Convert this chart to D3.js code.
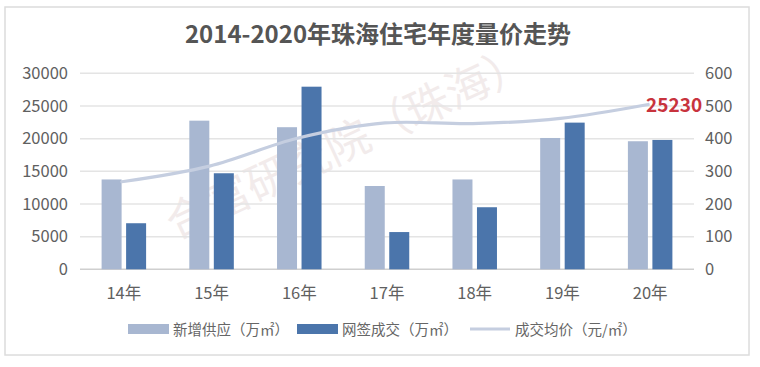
<!DOCTYPE html>
<html><head><meta charset="utf-8">
<script src="https://cdn.jsdelivr.net/npm/d3@7"></script>
<style>body{margin:0;background:#fff;}svg{display:block;}</style>
</head><body>
<svg id="c" width="760" height="367"></svg>
<script>
const categories = ["14年","15年","16年","17年","18年","19年","20年"];
const supply = [275, 455, 435, 255, 275, 402, 392];      // 新增供应（万㎡）
const deals  = [141, 294, 559, 114, 190, 449, 396];      // 网签成交（万㎡）
const price  = [13400, 15800, 20050, 22400, 22300, 23100, 25230]; // 成交均价（元/㎡）
const leftTicks = [0,5000,10000,15000,20000,25000,30000];
const rightTicks = [0,100,200,300,400,500,600];
const seriesNames = ["新增供应（万㎡）","网签成交（万㎡）","成交均价（元/㎡）"];
const colors = ["#a8b7d1","#4b75ab","#c5cee0"];

const svg = d3.select("#c");
const font = "'Noto Sans CJK SC','Noto Sans',sans-serif";
svg.append("rect").attr("x",5).attr("y",7).attr("width",744).attr("height",348)
  .attr("fill","#fff").attr("stroke","#dcdcdc").attr("stroke-width",1.5);

const m = {l:80, r:694, t:73.3, b:269.3};
const x = d3.scaleBand().domain(categories).range([m.l,m.r]);
const yL = d3.scaleLinear().domain([0,30000]).range([m.b,m.t]);
const yR = d3.scaleLinear().domain([0,600]).range([m.b,m.t]);

// watermark
const wm = svg.append("g").attr("opacity",0.16);
wm.append("text").attr("transform","translate(175,240) rotate(-25)")
  .attr("font-family",font).attr("font-size",44).attr("fill","#b08a8a")
  .text("合富研究院（珠海）");

// gridlines
svg.append("g").selectAll("line").data(leftTicks).join("line")
  .attr("x1",m.l).attr("x2",m.r).attr("y1",d=>yL(d)).attr("y2",d=>yL(d))
  .attr("stroke",d=>d===0?"#cfcfcf":"#e4e4e4").attr("stroke-width",1.5);

// axes
const axL = d3.axisLeft(yL).tickValues(leftTicks).tickFormat(d3.format("d")).tickSize(0).tickPadding(12);
const gL = svg.append("g").attr("transform",`translate(${m.l},0)`).call(axL);
const axR = d3.axisRight(yR).tickValues(rightTicks).tickSize(0).tickPadding(11);
const gR = svg.append("g").attr("transform",`translate(${m.r},0)`).call(axR);
const axB = d3.axisBottom(x).tickSize(0).tickPadding(18);
const gB = svg.append("g").attr("transform",`translate(0,${m.b})`).call(axB);
[gL,gR,gB].forEach(g=>{
  g.select(".domain").remove();
  g.selectAll("text").attr("font-family",font).attr("font-size",16.5).attr("fill","#606060");
});

// bars
const bw = 20, gap = 4.5;
svg.append("g").selectAll("rect").data(categories).join("rect")
  .attr("x",d=>x(d)+x.bandwidth()/2-gap/2-bw).attr("width",bw)
  .attr("y",(d,i)=>yR(supply[i])).attr("height",(d,i)=>yR(0)-yR(supply[i]))
  .attr("fill",colors[0]);
svg.append("g").selectAll("rect").data(categories).join("rect")
  .attr("x",d=>x(d)+x.bandwidth()/2+gap/2).attr("width",bw)
  .attr("y",(d,i)=>yR(deals[i])).attr("height",(d,i)=>yR(0)-yR(deals[i]))
  .attr("fill",colors[1]);

// line
const line = d3.line().x((d,i)=>x(categories[i])+x.bandwidth()/2-2).y(d=>yL(d)).curve(d3.curveCatmullRom.alpha(0.5));
svg.append("path").datum(price).attr("d",line).attr("fill","none")
  .attr("stroke",colors[2]).attr("stroke-width",3.2).attr("stroke-linecap","round");

// label
svg.append("text").attr("x",x(categories[6])+x.bandwidth()/2+52).attr("y",yL(price[6])+8)
  .attr("text-anchor","end").attr("font-family",font).attr("font-weight","bold")
  .attr("font-size",19).attr("fill","#c8333d").text(price[6]);

// title
svg.append("text").attr("x",378).attr("y",43).attr("text-anchor","middle")
  .attr("font-family",font).attr("font-weight","bold").attr("font-size",24)
  .attr("fill","#555").text("2014-2020年珠海住宅年度量价走势");

// legend
const lg = svg.append("g").attr("font-family",font).attr("font-size",14.5).attr("fill","#666");
const items = [{x:128, type:"rect"},{x:297, type:"rect"},{x:470, type:"line"}];
items.forEach((it,i)=>{
  if(it.type==="rect"){
    lg.append("rect").attr("x",it.x).attr("y",324).attr("width",41).attr("height",10).attr("fill",colors[i]);
  } else {
    lg.append("line").attr("x1",it.x).attr("x2",it.x+40).attr("y1",329).attr("y2",329)
      .attr("stroke",colors[i]).attr("stroke-width",3);
  }
  lg.append("text").attr("x",it.x+45).attr("y",334.5).attr("fill","#666").text(seriesNames[i]);
});
</script>
</body></html>
